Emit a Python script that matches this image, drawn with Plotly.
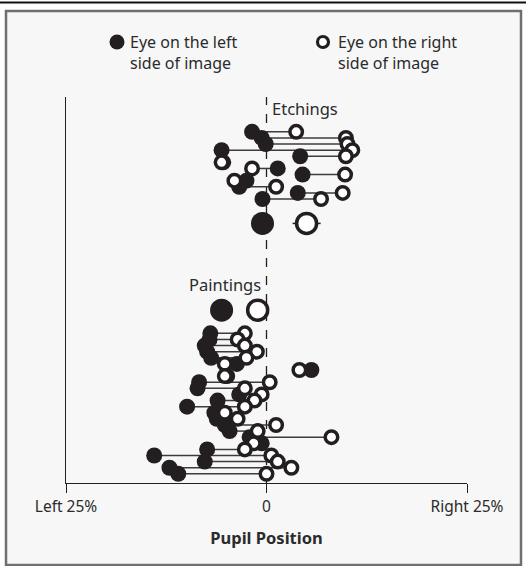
import plotly.graph_objects as go

# Pupil position of the eye on the left / right side of each work (% of image width from centre)
etch_left = [-1.8, -0.6, -0.1, -5.6, 4.2, -5.4, 1.4, 4.5, -2.5, -3.4, 3.9, -0.5]
etch_right = [3.7, 9.9, 10.1, 10.7, 9.9, -5.6, -1.8, 9.8, -4.0, 1.2, 9.5, 6.8]
etch_mean_left = -0.5
etch_mean_right = 5.0
etch_mean_ci = 1.75

paint_left = [-7.0, -7.1, -7.7, -7.4, -6.9, -3.7, 5.6, -4.9, -8.4, -8.6, -3.4, -6.1,
              -9.9, -6.5, -6.2, -5.2, -4.6, -2.1, -0.6, -7.4, -14.0, -7.7, -12.1, -11.0]
paint_right = [-2.7, -3.6, -2.7, -1.2, -2.5, -5.2, 4.1, -5.2, 0.4, -2.7, -0.6, -1.5,
               -2.7, -5.2, -3.6, 1.2, -1.1, 8.1, -1.6, -2.7, 0.6, 1.4, 3.1, 0.0]
paint_mean_left = -5.6
paint_mean_right = -1.1

tick_vals = [-25, 0, 25]
tick_text = ["Left 25%", "0", "Right 25%"]

INK = "#231f20"
TXT = "#2b2b2b"
FONT = "Noto Sans"

# vertical layout: one row per work, group means set apart
etch_rows = [i for i in range(len(etch_left))]
etch_mean_row = 15
paint_mean_row = 29.2
paint_rows = [33 + i for i in range(len(paint_left))]

W, H = 526, 566
L, R, T, B = 66, 59, 97, 83
PW, PH = W - L - R, H - T - B


def px(x):
    return (x - L) / PW


def py(y):
    return (H - B - y) / PH


fig = go.Figure()

# connectors between the two eyes of each work
lx, ly = [], []
for rows, lv, rv in ((etch_rows, etch_left, etch_right), (paint_rows, paint_left, paint_right)):
    for r, a, b in zip(rows, lv, rv):
        lx += [a, b, None]
        ly += [r, r, None]
fig.add_trace(go.Scatter(x=lx, y=ly, mode="lines", line=dict(color="#3c3c3c", width=1.5),
                         hoverinfo="skip", showlegend=False))

# individual works
fig.add_trace(go.Scatter(x=etch_left + paint_left, y=etch_rows + paint_rows, mode="markers",
                         marker=dict(size=16, color=INK, line=dict(width=0)),
                         name="Eye on the left side of image", showlegend=False))
fig.add_trace(go.Scatter(x=etch_right + paint_right, y=etch_rows + paint_rows, mode="markers",
                         marker=dict(size=12.5, color="white", line=dict(width=3.5, color=INK)),
                         name="Eye on the right side of image", showlegend=False))

# group means
fig.add_trace(go.Scatter(x=[etch_mean_left, paint_mean_left], y=[etch_mean_row, paint_mean_row],
                         mode="markers", marker=dict(size=23, color=INK, line=dict(width=0)),
                         showlegend=False))
fig.add_trace(go.Scatter(x=[etch_mean_right], y=[etch_mean_row], mode="markers",
                         error_x=dict(type="constant", value=etch_mean_ci, color=INK,
                                      thickness=1.5, width=0),
                         marker=dict(size=20, color="white", line=dict(width=3.5, color=INK)),
                         showlegend=False))
fig.add_trace(go.Scatter(x=[paint_mean_right], y=[paint_mean_row], mode="markers",
                         marker=dict(size=20, color="white", line=dict(width=3.5, color=INK)),
                         showlegend=False))

shapes = [
    # panel frame and rule above it
    dict(type="rect", xref="paper", yref="paper", x0=px(6), x1=px(521), y0=py(11), y1=py(565),
         line=dict(color="#6f6f6f", width=2.5), fillcolor="#f7f7f7", layer="below"),
    dict(type="line", xref="paper", yref="paper", x0=px(0), x1=px(526), y0=py(2.5), y1=py(2.5),
         line=dict(color="#111111", width=2)),
    # centre reference
    dict(type="line", xref="x", yref="paper", x0=0, x1=0, y0=0, y1=1,
         line=dict(color=INK, width=1.3, dash="dash"), layer="below"),
    # legend symbols
    dict(type="circle", xref="paper", yref="paper", xsizemode="pixel", ysizemode="pixel",
         xanchor=px(117), yanchor=py(42), x0=-7.5, x1=7.5, y0=-7.5, y1=7.5,
         fillcolor=INK, line=dict(width=0)),
    dict(type="circle", xref="paper", yref="paper", xsizemode="pixel", ysizemode="pixel",
         xanchor=px(323), yanchor=py(42), x0=-5.5, x1=5.5, y0=-5.5, y1=5.5,
         fillcolor="white", line=dict(width=3.2, color=INK)),
]

annotations = [
    dict(text="Eye on the left<br>side of image", xref="paper", yref="paper", x=px(128), y=py(52),
         xanchor="left", yanchor="middle", align="left", showarrow=False,
         font=dict(family=FONT, size=16, color=TXT)),
    dict(text="Eye on the right<br>side of image", xref="paper", yref="paper", x=px(336), y=py(52),
         xanchor="left", yanchor="middle", align="left", showarrow=False,
         font=dict(family=FONT, size=16, color=TXT)),
    dict(text="Etchings", xref="paper", yref="paper", x=px(270), y=py(108),
         xanchor="left", yanchor="middle", showarrow=False,
         font=dict(family=FONT, size=16.5, color=TXT)),
    dict(text="Paintings", xref="paper", yref="paper", x=px(263), y=py(284),
         xanchor="right", yanchor="middle", showarrow=False,
         font=dict(family=FONT, size=16.5, color=TXT)),
]

fig.update_layout(
    width=W, height=H,
    margin=dict(l=L, r=R, t=T, b=B, pad=0),
    paper_bgcolor="white", plot_bgcolor="rgba(0,0,0,0)",
    shapes=shapes, annotations=annotations,
    xaxis=dict(range=[-25, 25], tickvals=tick_vals, ticktext=tick_text, ticks="outside",
               ticklen=9, tickwidth=1.2, tickcolor=INK, showline=True, linecolor=INK,
               linewidth=1.3, showgrid=False, zeroline=False,
               tickfont=dict(family=FONT, size=15.5, color=TXT),
               title=dict(text="<b>Pupil Position</b>", standoff=16,
                          font=dict(family=FONT, size=16.5, color=TXT))),
    yaxis=dict(range=[57.5, -5.7], showticklabels=False, ticks="", showgrid=False,
               zeroline=False, showline=True, linecolor=INK, linewidth=1.3),
    showlegend=False,
)

fig.write_html("out.html")
